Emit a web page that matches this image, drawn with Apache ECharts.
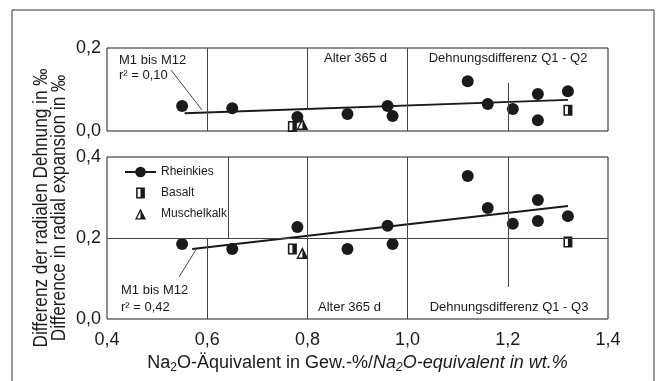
<!DOCTYPE html>
<html>
<head>
<meta charset="utf-8">
<script src="https://cdn.jsdelivr.net/npm/echarts@6/dist/echarts.min.js"></script>
<style>
  html, body { margin: 0; padding: 0; background: #fff; }
  #chart { width: 659px; height: 381px; }
</style>
</head>
<body>
<div id="chart"></div>
<script>
// Na2O equivalent of mixes M1..M12 (same x in both panels)
const naEq = [0.55, 0.65, 0.78, 0.88, 0.96, 0.97, 1.12, 1.16, 1.21, 1.26, 1.26, 1.32];
// Rheinkies: difference Q1 - Q2 (top) and Q1 - Q3 (bottom)
const rheinQ2 = [0.060, 0.055, 0.034, 0.041, 0.060, 0.036, 0.120, 0.065, 0.053, 0.089, 0.026, 0.096];
const rheinQ3 = [0.185, 0.173, 0.227, 0.173, 0.230, 0.185, 0.353, 0.274, 0.235, 0.294, 0.242, 0.254];
// Basalt
const basaltX = [0.77, 1.32];
const basaltQ2 = [0.011, 0.050];
const basaltQ3 = [0.173, 0.190];
// Muschelkalk
const muschelX = [0.79];
const muschelQ2 = [0.017];
const muschelQ3 = [0.163];
// regression lines (end points)
const fitQ2X = [0.555, 1.32];
const fitQ2Y = [0.043, 0.075];
const fitQ3X = [0.57, 1.32];
const fitQ3Y = [0.173, 0.279];
// tick labels
const xTicks = [0.4, 0.6, 0.8, 1.0, 1.2, 1.4];

const zip = (xs, ys) => xs.map((x, i) => [x, ys[i]]);
const comma = v => v.toFixed(1).replace('.', ',');

const ink = '#1a1a1a';
const sans = "'Liberation Sans', Arial, sans-serif";

const squareHalf = 'path://M0,0 L8,0 L8,10 L0,10 Z M1.4,1.4 L1.4,8.6 L4,8.6 L4,1.4 Z';
const triHalf = 'path://M5,0 L10,10 L0,10 Z M5,2.8 L1.8,8.8 L5,8.8 Z';
const lineDot = 'path://M0,4.2 L32,4.2 L32,6.2 L0,6.2 Z M21.5,5.2 A5.5,5.5 0 1,1 21.5,5.19 Z';

// panel dividers in axis values: [x, yFrom, yTo]
const dividersTop = [[0.6, 0, 0.2], [0.8, 0.05, 0.2], [1.0, 0, 0.2], [1.2, 0, 0.116]];
const dividersBottom = [[0.6, 0, 0.2], [0.642, 0.2, 0.4], [0.8, 0, 0.4], [1.0, 0, 0.4], [1.2, 0.079, 0.4]];

const toSegs = list => list.map(d => [{ coord: [d[0], d[1]] }, { coord: [d[0], d[2]] }]);

const markStyle = {
  silent: true,
  animation: false,
  symbol: ['none', 'none'],
  label: { show: false },
  lineStyle: { color: '#444', width: 1, type: 'solid' }
};

const chart = echarts.init(document.getElementById('chart'));

const xBase = {
  type: 'value', min: 0.4, max: 1.4, interval: 0.2,
  axisLine: { show: false }, axisTick: { show: false }, splitLine: { show: false }
};
const yBase = {
  type: 'value', min: 0, interval: 0.2,
  axisLine: { show: false }, axisTick: { show: false }, splitLine: { show: false },
  axisLabel: { formatter: comma, fontFamily: sans, fontSize: 18, color: ink, margin: 6 }
};
const dot = { color: ink, opacity: 1 };

const option = {
  backgroundColor: '#fff',
  animation: false,
  grid: [
    { left: 107, top: 48, width: 501, height: 83, show: true, borderColor: ink, borderWidth: 1 },
    { left: 107, top: 157, width: 501, height: 162, show: true, borderColor: ink, borderWidth: 1 }
  ],
  xAxis: [
    Object.assign({}, xBase, { gridIndex: 0, axisLabel: { show: false } }),
    Object.assign({}, xBase, {
      gridIndex: 1,
      axisLabel: {
        formatter: v => xTicks.includes(+v.toFixed(1)) ? comma(v) : '',
        fontFamily: sans, fontSize: 18, color: ink, margin: 12
      },
      name: 'Na{sub|2}O-Äquivalent in Gew.-%/{it|Na}{itsub|2}{it|O-equivalent in wt.%}',
      nameLocation: 'middle',
      nameGap: 33,
      nameTextStyle: {
        fontFamily: sans, fontSize: 18, color: ink,
        rich: {
          sub: { fontFamily: sans, fontSize: 12, color: ink, verticalAlign: 'bottom', padding: [10, 0, 0, 0] },
          it: { fontFamily: sans, fontSize: 18, fontStyle: 'italic', color: ink },
          itsub: { fontFamily: sans, fontSize: 12, fontStyle: 'italic', color: ink, verticalAlign: 'bottom', padding: [10, 0, 0, 0] }
        }
      }
    })
  ],
  yAxis: [
    Object.assign({}, yBase, { gridIndex: 0, max: 0.2 }),
    Object.assign({}, yBase, { gridIndex: 1, max: 0.4 })
  ],
  legend: {
    orient: 'vertical',
    left: 120, top: 160,
    itemWidth: 31, itemHeight: 11, itemGap: 7,
    textStyle: { fontFamily: sans, fontSize: 12, lineHeight: 14, color: ink },
    data: [
      { name: 'Rheinkies', icon: lineDot },
      { name: 'Basalt', icon: squareHalf },
      { name: 'Muschelkalk', icon: triHalf }
    ],
    selectedMode: false
  },
  series: [
    {
      name: 'fitQ2', type: 'line', xAxisIndex: 0, yAxisIndex: 0,
      data: zip(fitQ2X, fitQ2Y), symbol: 'none', silent: true,
      lineStyle: { color: ink, width: 2 },
      markLine: Object.assign({}, markStyle, { data: toSegs(dividersTop) })
    },
    {
      name: 'fitQ3', type: 'line', xAxisIndex: 1, yAxisIndex: 1,
      data: zip(fitQ3X, fitQ3Y), symbol: 'none', silent: true,
      lineStyle: { color: ink, width: 2 },
      markLine: Object.assign({}, markStyle, {
        data: toSegs(dividersBottom).concat([[{ coord: [0.4, 0.2] }, { coord: [1.4, 0.2] }]])
      })
    },
    {
      name: 'Rheinkies', type: 'scatter', xAxisIndex: 0, yAxisIndex: 0,
      data: zip(naEq, rheinQ2), symbol: 'circle', symbolSize: 12, itemStyle: dot
    },
    {
      name: 'Rheinkies', type: 'scatter', xAxisIndex: 1, yAxisIndex: 1,
      data: zip(naEq, rheinQ3), symbol: 'circle', symbolSize: 12, itemStyle: dot
    },
    {
      name: 'Basalt', type: 'scatter', xAxisIndex: 0, yAxisIndex: 0,
      data: zip(basaltX, basaltQ2), symbol: squareHalf, symbolSize: [9, 11], itemStyle: dot
    },
    {
      name: 'Basalt', type: 'scatter', xAxisIndex: 1, yAxisIndex: 1,
      data: zip(basaltX, basaltQ3), symbol: squareHalf, symbolSize: [9, 11], itemStyle: dot
    },
    {
      name: 'Muschelkalk', type: 'scatter', xAxisIndex: 0, yAxisIndex: 0,
      data: zip(muschelX, muschelQ2), symbol: triHalf, symbolSize: [12, 12], itemStyle: dot
    },
    {
      name: 'Muschelkalk', type: 'scatter', xAxisIndex: 1, yAxisIndex: 1,
      data: zip(muschelX, muschelQ3), symbol: triHalf, symbolSize: [12, 12], itemStyle: dot
    }
  ],
  graphic: [
    // outer frame (open at the bottom edge of the picture)
    { type: 'polyline', shape: { points: [[12, 392], [12, 10], [654, 10], [654, 392]] },
      style: { stroke: '#333', lineWidth: 1, fill: null } },
    // y axis name, two lines
    { type: 'text', x: 41, y: 208, rotation: Math.PI / 2, scaleX: 0.86,
      style: { text: 'Differenz der radialen Dehnung in ‰', font: '20px ' + sans, fill: ink,
               textAlign: 'center', textVerticalAlign: 'middle' } },
    { type: 'text', x: 59, y: 208, rotation: Math.PI / 2, scaleX: 0.86,
      style: { text: 'Difference in radial expansion in ‰', font: '20px ' + sans, fill: ink,
               textAlign: 'center', textVerticalAlign: 'middle' } },
    // panel captions
    { type: 'text', x: 324, y: 58,
      style: { text: 'Alter 365 d', font: '13px ' + sans, fill: ink, textVerticalAlign: 'middle' } },
    { type: 'text', x: 508, y: 58,
      style: { text: 'Dehnungsdifferenz Q1 - Q2', font: '13px ' + sans, fill: ink,
               textAlign: 'center', textVerticalAlign: 'middle' } },
    { type: 'text', x: 318, y: 307,
      style: { text: 'Alter 365 d', font: '13px ' + sans, fill: ink, textVerticalAlign: 'middle' } },
    { type: 'text', x: 509, y: 307,
      style: { text: 'Dehnungsdifferenz Q1 - Q3', font: '13px ' + sans, fill: ink,
               textAlign: 'center', textVerticalAlign: 'middle' } },
    // regression labels
    { type: 'text', x: 119, y: 60,
      style: { text: 'M1 bis M12', font: '13px ' + sans, fill: ink, textVerticalAlign: 'middle' } },
    { type: 'text', x: 119, y: 75,
      style: { text: 'r² = 0,10', font: '13px ' + sans, fill: ink, textVerticalAlign: 'middle' } },
    { type: 'line', shape: { x1: 171, y1: 70, x2: 202, y2: 110 }, style: { stroke: ink, lineWidth: 0.8 } },
    { type: 'text', x: 121, y: 290,
      style: { text: 'M1 bis M12', font: '13px ' + sans, fill: ink, textVerticalAlign: 'middle' } },
    { type: 'text', x: 121, y: 307,
      style: { text: 'r² = 0,42', font: '13px ' + sans, fill: ink, textVerticalAlign: 'middle' } },
    { type: 'line', shape: { x1: 197, y1: 248, x2: 179, y2: 277 }, style: { stroke: ink, lineWidth: 0.8 } }
  ]
};

chart.setOption(option);
window.addEventListener('resize', () => chart.resize());
</script>
</body>
</html>
